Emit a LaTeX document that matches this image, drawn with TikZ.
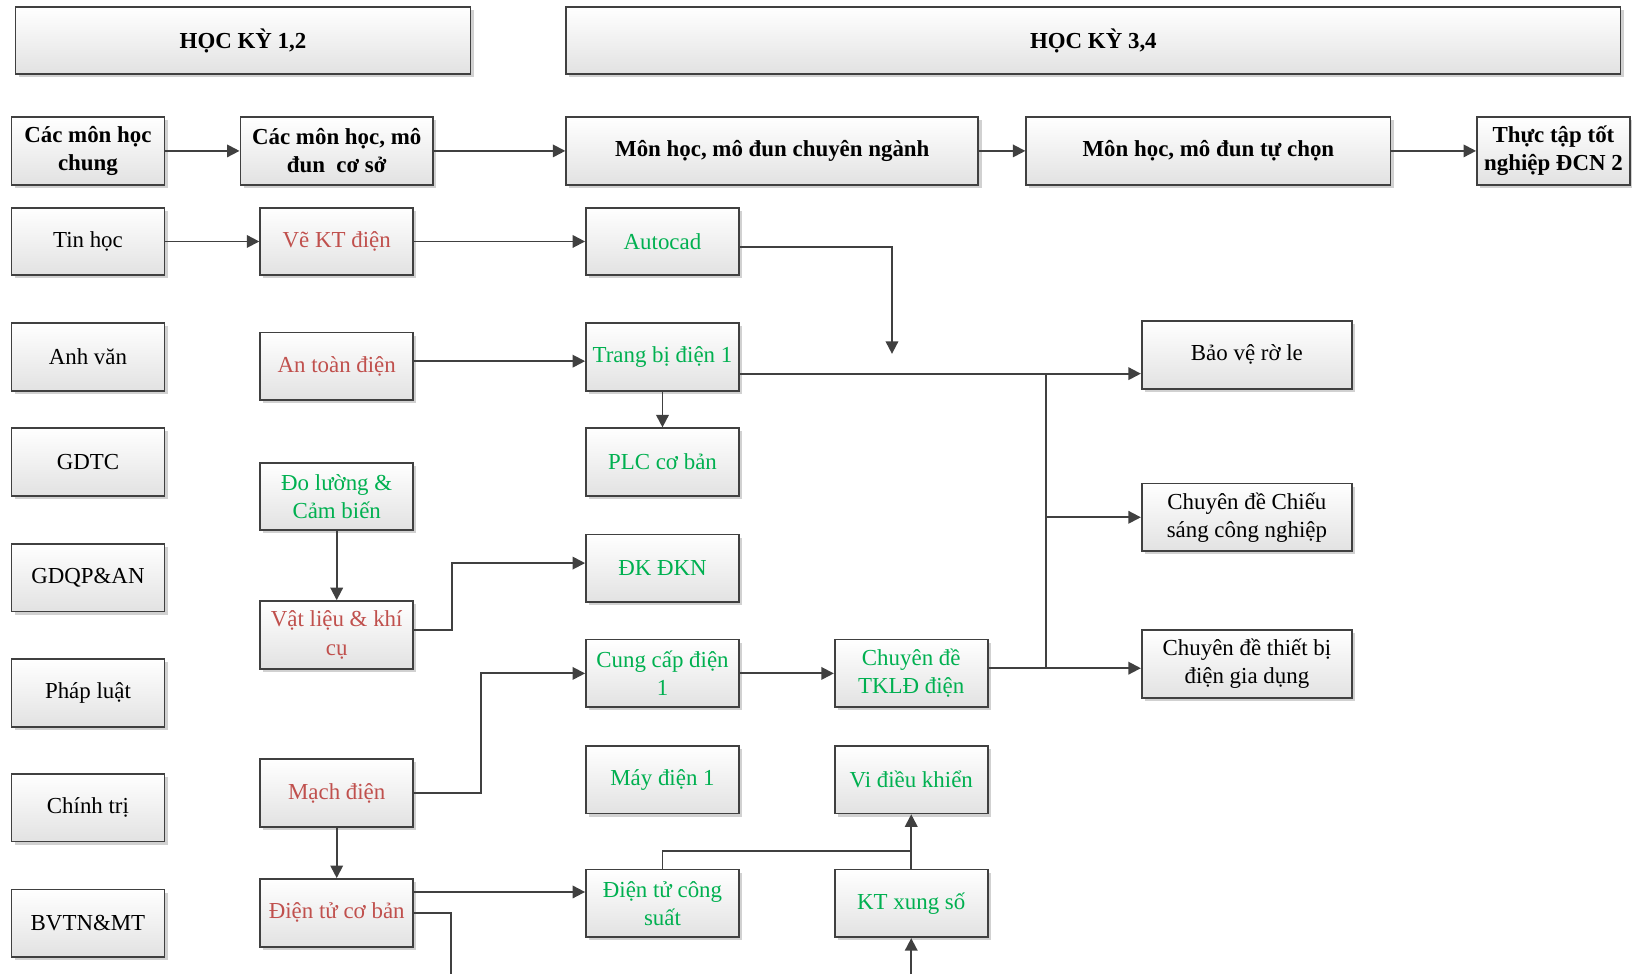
\documentclass[tikz,border=0pt]{standalone}
\usepackage{fontspec}
\setmainfont{Liberation Serif}
\usetikzlibrary{arrows.meta,shadows}
\definecolor{boxline}{HTML}{404040}
\definecolor{boxgray}{HTML}{E2E2E2}
\definecolor{redtxt}{HTML}{C0504D}
\definecolor{greentxt}{HTML}{00B050}
\begin{document}
\begin{tikzpicture}[x=0.5pt, y=-0.5pt,
    box/.style={draw=boxline, line width=0.85pt, top color=white, bottom color=boxgray,
      drop shadow={shadow xshift=1.5pt, shadow yshift=-1.5pt, fill=black, opacity=0.18},
      minimum width=73.5pt, minimum height=32.5pt, inner sep=1pt, align=center,
      font=\fontsize{11}{13.5}\selectfont},
    hbox/.style={box, font=\fontsize{11}{13.5}\selectfont\bfseries},
    rbox/.style={box, text=redtxt},
    gbox/.style={box, text=greentxt},
    wbox/.style={box, minimum width=101pt},
    wire/.style={draw=boxline, line width=0.9pt},
    conn/.style={wire, -{Triangle[length=6pt, width=6pt]}}]
      \useasboundingbox (0,0) rectangle (1568,936);
      \node (hk1)[hbox, minimum width=218.5pt, minimum height=32pt] at (233.5,39) {HỌC KỲ 1,2};
      \node (hk2)[hbox, minimum width=506.5pt, minimum height=32pt] at (1050.5,39) {HỌC KỲ 3,4};
      \node (m1)[hbox] at (84.5,145) {Các môn học\\chung};
      \node (m2)[hbox, minimum width=92.5pt] at (323.5,145) {Các môn học, mô\\đun\ \ cơ sở};
      \node (m3)[hbox, minimum width=198pt] at (742,145) {Môn học, mô đun chuyên ngành};
      \node (m4)[hbox, minimum width=175pt] at (1161,145) {Môn học, mô đun tự chọn};
      \node (m5)[hbox] at (1492.5,145) {Thực tập tốt\\nghiệp ĐCN 2};
      \node (a1)[box] at (84.5,232) {Tin học};
      \node (a2)[box] at (84.5,343) {Anh văn};
      \node (a3)[box] at (84.5,444) {GDTC};
      \node (a4)[box] at (84.5,555) {GDQP\&AN};
      \node (a5)[box] at (84.5,666) {Pháp luật};
      \node (a6)[box] at (84.5,776) {Chính trị};
      \node (a7)[box] at (84.5,887) {BVTN\&MT};
      \node (b1)[rbox] at (323.5,232) {Vẽ KT điện};
      \node (b2)[rbox] at (323.5,352) {An toàn điện};
      \node (b3)[gbox] at (323.5,477) {Đo lường \&\\Cảm biến};
      \node (b4)[rbox] at (323.5,610) {Vật liệu \& khí\\cụ};
      \node (b5)[rbox] at (323.5,762) {Mạch điện};
      \node (b6)[rbox] at (323.5,877) {Điện tử cơ bản};
      \node (c1)[gbox] at (636.5,232) {Autocad};
      \node (c2)[gbox] at (636.5,343) {Trang bị điện 1};
      \node (c3)[gbox] at (636.5,444) {PLC cơ bản};
      \node (c4)[gbox] at (636.5,546) {ĐK ĐKN};
      \node (c5)[gbox] at (636.5,647) {Cung cấp điện\\1};
      \node (c6)[gbox] at (636.5,749) {Máy điện 1};
      \node (c7)[gbox] at (636.5,868) {Điện tử công\\suất};
      \node (d1)[gbox] at (875.5,647) {Chuyên đề\\TKLĐ điện};
      \node (d2)[gbox] at (875.5,749) {Vi điều khiển};
      \node (d3)[gbox] at (875.5,868) {KT xung số};
      \node (e1)[wbox] at (1198,341) {Bảo vệ rờ le};
      \node (e2)[wbox] at (1198,497) {Chuyên đề Chiếu\\sáng công nghiệp};
      \node (e3)[wbox] at (1198,638) {Chuyên đề thiết bị\\điện gia dụng};
      \coordinate (p1) at (857,340);
      \coordinate (j1) at (1005,359);
      \coordinate (j2) at (1005,642);
      \coordinate (j3) at (875.5,818);
      \coordinate (q1) at (433,936);
      \coordinate (q2) at (875.5,936);
      \draw[conn] (m1) -- (m2);
      \draw[conn] (m2) -- (m3);
      \draw[conn] (m3) -- (m4);
      \draw[conn] (m4) -- (m5);
      \draw[conn] (a1) -- (b1);
      \draw[conn] (b1) -- (c1);
      \draw[conn] (c1.east) ++(0,5) -| (p1);
      \draw[conn] ([yshift=2.5pt]b2.east) -- ([yshift=2.5pt]b2.east -| c2.west);
      \draw[conn] (c2) -- (c3);
      \draw[conn] ([yshift=-8pt]c2.east) -- ([yshift=-8pt]c2.east -| e1.west);
      \draw[wire] (j1) -- (j2);
      \draw[conn] (j1 |- e2.west) -- (e2.west);
      \draw[conn] ([yshift=2.5pt]d1.east) -- ([yshift=2.5pt]d1.east -| e3.west);
      \draw[conn] (b3) -- (b4);
      \draw[conn] ([yshift=2.5pt]b4.east) -- ++(36,0) |- ([yshift=2.5pt]c4.west);
      \draw[conn] (b5.east) -- ++(64,0) |- (c5.west);
      \draw[conn] (c5) -- (d1);
      \draw[conn] (b5) -- (b6);
      \draw[conn] ([yshift=10pt]b6.east) -- ([yshift=10pt]b6.east -| c7.west);
      \draw[wire] (b6.east) -| (q1);
      \draw[wire] (c7.north) |- (j3);
      \draw[conn] (d3) -- (d2);
      \draw[conn] (q2) -- (d3);
    \end{tikzpicture}
\end{document}
